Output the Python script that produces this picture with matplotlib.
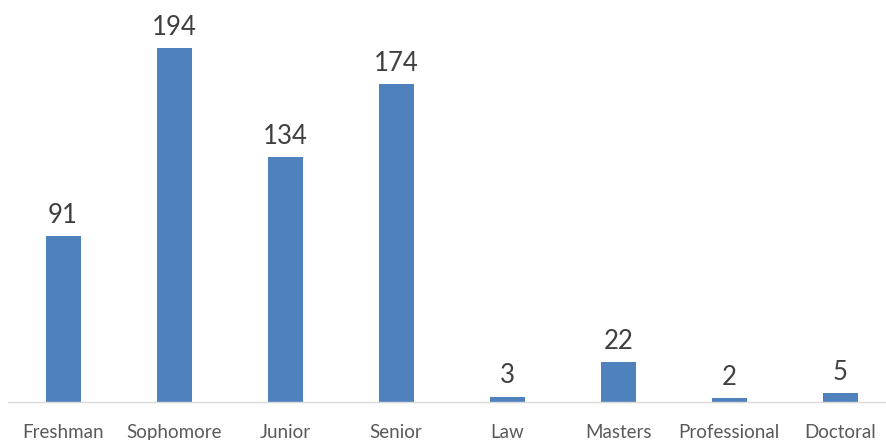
import matplotlib
matplotlib.use("Agg")
import matplotlib.pyplot as plt

categories = ["Freshman", "Sophomore", "Junior", "Senior", "Law", "Masters", "Professional", "Doctoral"]
values = [91, 194, 134, 174, 3, 22, 2, 5]

plt.rcParams['font.family'] = ['Lato', 'DejaVu Sans']

fig = plt.figure(figsize=(8.87, 4.4), dpi=100)
ax = fig.add_axes([7.5/887, 38/440, 1 - 7.5/887, 402/440])
x = list(range(len(categories)))
bars = ax.bar(x, values, width=0.315, color="#4F81BD", zorder=2)
for xi, v in zip(x, values):
    ax.annotate(str(v), (xi, v), xytext=(0, 6), textcoords="offset points",
                ha="center", va="bottom", fontsize=18.5, color="#404040")
ax.set_xlim(-0.5, 7.42)
ax.set_ylim(0, 220.3)
ax.set_xticks(x)
ax.set_xticklabels(categories, fontsize=13.5, color="#595959")
ax.tick_params(axis='x', length=0, pad=16)
ax.set_yticks([])
for s in ["top", "right", "left"]:
    ax.spines[s].set_visible(False)
ax.spines["bottom"].set_color("#D9D9D9")
ax.spines["bottom"].set_linewidth(1)
fig.savefig("out.png", dpi=100)
